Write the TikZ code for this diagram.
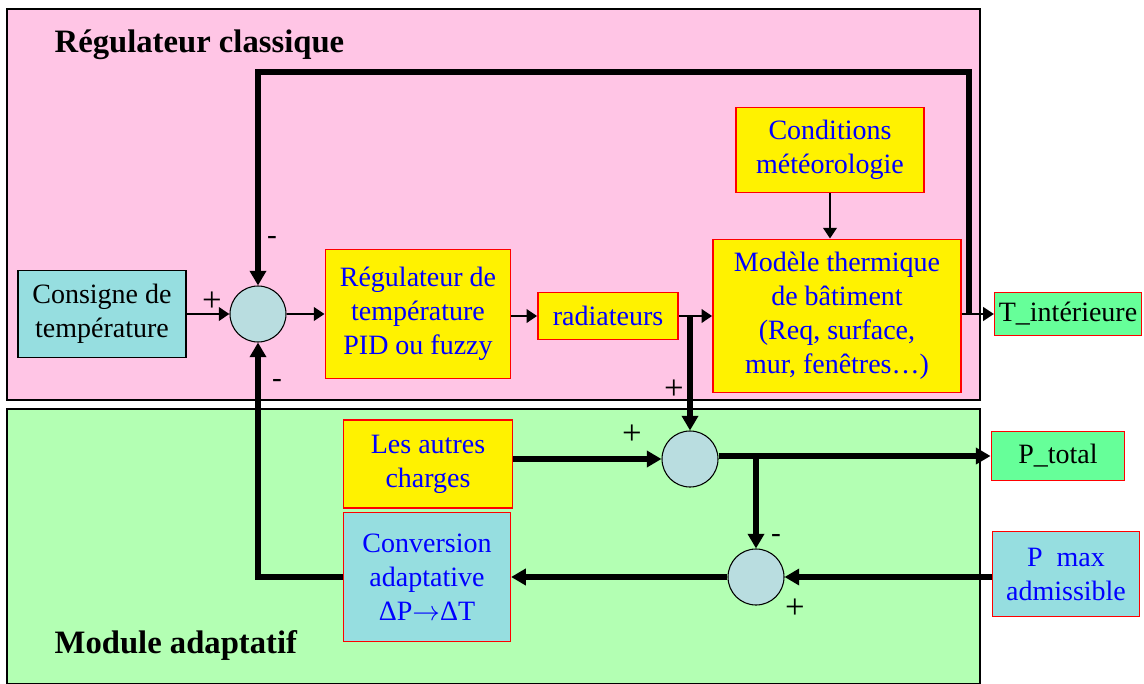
\documentclass[tikz,border=0pt]{standalone}
\usepackage{fontspec}
\setmainfont{Liberation Serif}
\usetikzlibrary{arrows.meta,positioning,shapes}

\definecolor{rose}{RGB}{255,197,229}
\definecolor{vert}{RGB}{179,255,179}
\definecolor{cyanbox}{RGB}{150,222,224}
\definecolor{sumfill}{RGB}{185,221,224}
\definecolor{sortie}{RGB}{102,255,153}

\begin{document}
\begin{tikzpicture}[x=0.75pt,y=-0.75pt,
  bloc/.style={draw=red,line width=1.2pt,fill=yellow,text=blue,align=center,inner sep=0pt,font=\fontsize{21}{25.5}\selectfont},
  entree/.style={bloc,fill=cyanbox},
  sum/.style={draw,circle,fill=sumfill,minimum size=42pt,inner sep=0pt,line width=0.8pt},
  fin/.style={-{Triangle[length=8pt,width=10pt]},line width=2.2pt},
  gros/.style={-{Triangle[length=11pt,width=12pt]},line width=4.5pt},
  signe/.style={font=\fontsize{26}{26}\selectfont,inner sep=0pt}]
\useasboundingbox (0,0) rectangle (1144,684);
\draw[fill=rose,line width=1pt] (7,9) rectangle (980,400);
\draw[fill=vert,line width=1pt] (7,409) rectangle (980,684);
\node[anchor=west,font=\bfseries\fontsize{24.5}{24.5}\selectfont] (titre1) at (50,45) {Régulateur classique};
\node[anchor=west,font=\bfseries\fontsize{24.5}{24.5}\selectfont] (titre2) at (50,645) {Module adaptatif};
% boucle de temperature
\node[entree,draw=black,text=black,minimum width=126pt,minimum height=65pt] (cons) at (102,314) {Consigne de\\température};
\node[sum] (s1) at (258,314) {};
\node[bloc,minimum width=139pt,minimum height=97pt] (reg) at (418,314) {Régulateur de\\température\\PID ou fuzzy};
\node[bloc,minimum width=105pt,minimum height=35pt] (rad) at (608,316) {radiateurs};
\node[bloc,minimum width=186pt,minimum height=115pt] (mod) at (837,316) {Modèle thermique\\de bâtiment\\(Req, surface,\\mur, fenêtres…)};
\node[bloc,minimum width=141pt,minimum height=64pt] (cond) at (830,150) {Conditions\\météorologie};
\node[bloc,fill=sortie,text=black,minimum width=110pt,minimum height=32pt] (tint) at (1068,314) {T\_intérieure};
% module adaptatif
\node[bloc,minimum width=127pt,minimum height=66pt] (aut) at (428,464) {Les autres\\charges};
\node[entree,minimum width=125pt,minimum height=97pt] (conv) at (427,577) {Conversion\\adaptative\\ΔP$\rightarrow$ΔT};
\node[sum] (s2) at (690,459) {};
\node[bloc,fill=sortie,text=black,minimum width=100pt,minimum height=37pt] (ptot) at (1058,456) {P\_total};
\node[sum] (s3) at (756,577) {};
\node[entree,minimum width=110pt,minimum height=64pt] (pmax) at (1066,574) {P~~max\\admissible};
\coordinate (tap) at (969,314);
\coordinate (haut) at (969,72);
\coordinate (rtap) at (690,316);
\coordinate (ptap) at (756,456);
% signes
\node[signe] (p1) at (212,302) {+};
\node[signe,font=\fontsize{22}{22}\selectfont] (m1) at (272,240) {-};
\node[signe,font=\fontsize{22}{22}\selectfont] (m2) at (277,383) {-};
\node[signe] (p2) at (674,390) {+};
\node[signe] (p3) at (632,435) {+};
\node[signe,font=\fontsize{22}{22}\selectfont] (m3) at (776,538) {-};
\node[signe] (p4) at (795,609) {+};
% liaisons
\draw[fin] (cons) -- (s1);
\draw[fin] (s1) -- (reg);
\draw[fin] (reg.east |- rad) -- (rad);
\draw[fin] (rad) -- (mod);
\draw[fin] (cond) -- (cond |- mod.north);
\draw[fin] (mod.east |- tint) -- (tint);
\draw[gros] (tap) -- (haut) -| (s1.north);
\draw[gros] (rtap) -- (s2.north);
\draw[gros] (aut.east |- s2) -- (s2.west);
\draw[gros] (s2.east |- ptap) -- (ptot.west |- ptap);
\draw[gros] (ptap) -- (s3.north);
\draw[gros] (pmax.west |- s3) -- (s3.east);
\draw[gros] (s3.west) -- (conv.east |- s3);
\draw[gros] (conv.west) -| (s1.south);
\end{tikzpicture}
\end{document}
